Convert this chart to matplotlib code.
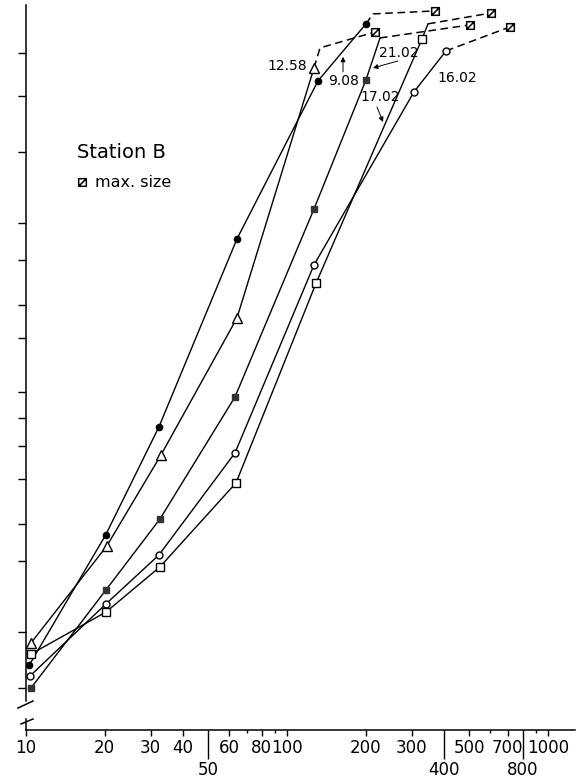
import math
import numpy as np
import matplotlib
matplotlib.use("Agg")
import matplotlib.pyplot as plt
from matplotlib.path import Path
from matplotlib.lines import Line2D
from matplotlib import transforms
from matplotlib.ticker import FixedLocator, NullFormatter, NullLocator

# Station B: grain size vs cumulative percent (probability paper), one curve per date
size_908 = [10.3, 20.2, 32.3, 64.3, 131.5, 200.7]
cum_908 = [0.402, 8.26, 36.7, 93.13, 99.874, 99.9824]
size_1258 = [10.45, 20.4, 32.9, 64.3, 126.9]
cum_1258 = [0.740, 6.74, 27.04, 76.34, 99.9173]
size_2102 = [10.45, 20.25, 32.6, 63.2, 126.9, 200.7]
cum_2102 = [0.2025, 2.73, 10.87, 48.07, 96.22, 99.8774]
size_1602 = [10.36, 20.25, 32.3, 63.2, 126.9, 306.6, 406.7]
cum_1602 = [0.291, 1.98, 5.67, 27.70, 89.13, 99.8211, 99.9536]
size_1702 = [10.45, 20.25, 32.6, 63.8, 129.2, 329.0]
cum_1702 = [0.547, 1.63, 4.47, 18.88, 85.46, 99.9695]

# bend on the way up to the max. size, and the max. size itself
bend_size = [213.6, 133.8, 227.2, None, 346.9]
bend_cum = [99.9879, 99.9582, 99.9706, None, 99.9824]
bend_solid = [False, False, True, False, True]
max_size = [369.0, 217.4, 502.5, 715.1, 604.6]
max_cum = [99.9892, 99.9763, 99.9817, 99.9803, 99.9883]

dates = ["9.08", "12.58", "21.02", "16.02", "17.02"]

y_ticks = [0.2, 1, 5, 10, 20, 30, 40, 50, 70, 80, 90, 95, 99, 99.8, 99.95]
x_ticks = [10, 20, 30, 40, 60, 80, 100, 200, 300, 500, 700, 1000]
x_ticks_low = [50, 400, 800]
x_ticks_small = [70, 90, 600, 900]


def ppf(p):
    # inverse normal cdf (Acklam), p given in percent
    p = np.clip(np.asarray(p, dtype=float) / 100.0, 1e-12, 1 - 1e-12)
    a = [-3.969683028665376e+01, 2.209460984245205e+02, -2.759285104469687e+02,
         1.383577518672690e+02, -3.066479806614716e+01, 2.506628277459239e+00]
    b = [-5.447609879822406e+01, 1.615858368580409e+02, -1.556989798598866e+02,
         6.680131188771972e+01, -1.328068155288572e+01]
    c = [-7.784894002430293e-03, -3.223964580411365e-01, -2.400758277161838e+00,
         -2.549671348859990e+00, 4.374664141464968e+00, 2.938163982698783e+00]
    d = [7.784695709041462e-03, 3.224671290700398e-01, 2.445134137142996e+00,
         3.754408661907416e+00]
    q = p - 0.5
    r = q * q
    mid = ((((((a[0] * r + a[1]) * r + a[2]) * r + a[3]) * r + a[4]) * r + a[5]) * q /
           (((((b[0] * r + b[1]) * r + b[2]) * r + b[3]) * r + b[4]) * r + 1))
    t = np.sqrt(-2 * np.log(np.minimum(p, 1 - p)))
    tail = ((((((c[0] * t + c[1]) * t + c[2]) * t + c[3]) * t + c[4]) * t + c[5]) /
            ((((d[0] * t + d[1]) * t + d[2]) * t + d[3]) * t + 1))
    tail = np.where(p < 0.5, tail, -tail)
    return np.where(np.abs(q) <= 0.5 - 0.02425, mid, tail)


_erf = np.vectorize(math.erf, otypes=[float])


def cdf(z):
    return 50.0 * (1.0 + _erf(np.asarray(z, dtype=float) / math.sqrt(2)))


# square with a diagonal stroke for the max. size
max_marker = Path([(-1, -1), (1, -1), (1, 1), (-1, 1), (-1, -1), (-1, -1), (1, 1)],
                  [Path.MOVETO, Path.LINETO, Path.LINETO, Path.LINETO, Path.CLOSEPOLY,
                   Path.MOVETO, Path.LINETO])

series = [
    (size_908, cum_908, dict(marker="o", ms=4.5, mfc="black", mec="black")),
    (size_1258, cum_1258, dict(marker="^", ms=7, mfc="white", mec="black", mew=1)),
    (size_2102, cum_2102, dict(marker="s", ms=5, mfc="#333333", mec="#333333")),
    (size_1602, cum_1602, dict(marker="o", ms=5, mfc="white", mec="black", mew=1)),
    (size_1702, cum_1702, dict(marker="s", ms=6, mfc="white", mec="black", mew=1)),
]

fig = plt.figure(figsize=(5.84, 7.83), dpi=100)
ax = fig.add_axes([26 / 584, 53 / 783, 549 / 584, 725 / 783])

ax.set_xscale("log")
ax.set_yscale("function", functions=(ppf, cdf))

for i, (xs, ys, style) in enumerate(series):
    line_x, line_y = list(xs), list(ys)
    dash_x, dash_y = [xs[-1]], [ys[-1]]
    if bend_size[i] is not None:
        if bend_solid[i]:
            line_x.append(bend_size[i])
            line_y.append(bend_cum[i])
            dash_x, dash_y = [bend_size[i]], [bend_cum[i]]
        else:
            dash_x.append(bend_size[i])
            dash_y.append(bend_cum[i])
    dash_x.append(max_size[i])
    dash_y.append(max_cum[i])
    ax.plot(line_x, line_y, color="black", lw=1.0, zorder=2)
    ax.plot(dash_x, dash_y, color="black", lw=1.1, ls=(0, (5, 3)), zorder=2)
    ax.plot(xs, ys, ls="none", zorder=3, **style)

ax.plot(max_size, max_cum, ls="none", marker=max_marker, ms=5.5, mfc="white",
        mec="black", mew=1.1, zorder=3)

# date labels beside the curves, offsets in pixels from a curve point
ax.annotate("12.58", xy=(size_1258[-1], cum_1258[-1]), xytext=(-7, 2),
            textcoords="offset pixels", ha="right", va="center", fontsize=10)
ax.annotate("9.08", xy=(size_908[-2], cum_908[-2]), xytext=(10, 0),
            textcoords="offset pixels", ha="left", va="center", fontsize=10)
ax.annotate("21.02", xy=(size_2102[-1], cum_2102[-1]), xytext=(33, 27),
            textcoords="offset pixels", ha="center", va="center", fontsize=10)
ax.annotate("17.02", xy=(size_1702[-1], cum_1702[-1]), xytext=(-42, -58),
            textcoords="offset pixels", ha="center", va="center", fontsize=10)
ax.annotate("16.02", xy=(size_1602[-1], cum_1602[-1]), xytext=(11, -27),
            textcoords="offset pixels", ha="center", va="center", fontsize=10)

arrows = [
    ((size_908[-2], cum_908[-2]), (25, 9), (25, 24)),
    ((size_2102[-1], cum_2102[-1]), (32, 19), (7, 12)),
    ((size_1702[-1], cum_1702[-1]), (-45, -68), (-39, -83)),
]
for (px, py), tail, head in arrows:
    t_tail = transforms.offset_copy(ax.transData, fig=fig, x=tail[0], y=tail[1], units="dots")
    t_head = transforms.offset_copy(ax.transData, fig=fig, x=head[0], y=head[1], units="dots")
    ax.annotate("", xy=(px, py), xycoords=t_head, xytext=(px, py), textcoords=t_tail,
                arrowprops=dict(arrowstyle="-|>", lw=0.7, color="black",
                                mutation_scale=7, shrinkA=0, shrinkB=0))

ax.text(0.093, 0.797, "Station B", transform=ax.transAxes, fontsize=14,
        ha="left", va="center")
ax.legend(handles=[Line2D([], [], ls="none", marker=max_marker, ms=5.5, mfc="white",
                          mec="black", mew=1.1)],
          labels=["max. size"], loc="center left", bbox_to_anchor=(0.0903, 0.7545),
          frameon=False, handlelength=0.8, handletextpad=0.4, borderpad=0,
          borderaxespad=0, fontsize=11.5)

ax.set_xlim(10, 1269)
ax.set_ylim(0.0515, 99.9914)

# axes: x log ticks with three tick lengths, y probability ticks without labels
ax.xaxis.set_major_locator(FixedLocator(x_ticks))
ax.set_xticklabels([str(v) for v in x_ticks])
ax.xaxis.set_minor_locator(FixedLocator(x_ticks_small))
ax.xaxis.set_minor_formatter(NullFormatter())
ax.tick_params(axis="x", which="major", length=4.5, width=1.0, pad=2, labelsize=12)
ax.tick_params(axis="x", which="minor", length=2.2, width=1.0)

low = ax.secondary_xaxis("bottom")
low.xaxis.set_major_locator(FixedLocator(x_ticks_low))
low.set_xticklabels([str(v) for v in x_ticks_low])
low.xaxis.set_minor_locator(NullLocator())
low.tick_params(axis="x", length=21, width=1.0, pad=1, labelsize=12)
low.spines["bottom"].set_visible(False)

ax.yaxis.set_major_locator(FixedLocator(y_ticks))
ax.yaxis.set_major_formatter(NullFormatter())
ax.yaxis.set_minor_locator(NullLocator())
ax.tick_params(axis="y", length=5.8, width=1.0)

for side in ["top", "right", "left"]:
    ax.spines[side].set_visible(False)
ax.spines["bottom"].set_linewidth(1.1)

# broken left axis
spine = dict(color="black", lw=1.1, transform=ax.transAxes, clip_on=False)
ax.plot([0, 0], [0.04, 1], **spine)
ax.plot([0, 0], [0, 0.0152], **spine)
ax.plot([-0.0146, 0.0128], [0.0303, 0.0400], **spine)
ax.plot([-0.0091, 0.0128], [0.0083, 0.0152], **spine)

fig.savefig("out.png", dpi=100)
